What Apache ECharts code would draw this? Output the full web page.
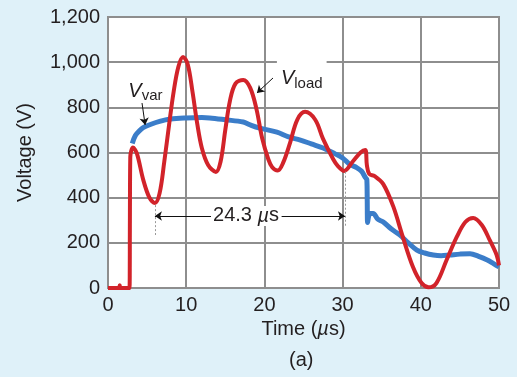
<!DOCTYPE html>
<html>
<head>
<meta charset="utf-8">
<script src="https://cdn.jsdelivr.net/npm/echarts@6/dist/echarts.min.js"></script>
<style>
  html, body { margin: 0; padding: 0; background: #dff1f9; }
  #chart { width: 517px; height: 377px; }
</style>
</head>
<body>
<div id="chart"></div>
<script>
// time (us), voltage (V)
var vload = [
  [0, 0], [1.4, 0], [1.5, 12], [1.6, 0], [2.75, 0], [2.8, 300], [2.85, 580], [3.2, 622],
  [3.7, 595], [4.5, 480], [5.3, 400], [6.0, 376], [6.6, 420], [7.2, 560], [7.8, 720],
  [8.4, 870], [9.0, 980], [9.6, 1023], [10.2, 990], [10.8, 870], [11.4, 730], [12.0, 620],
  [12.8, 545], [13.8, 514], [14.4, 560], [15.0, 700], [15.6, 830], [16.3, 905], [17.3, 921],
  [18.2, 885], [19.0, 790], [19.7, 665], [20.5, 570], [21.0, 535], [21.7, 520], [22.4, 555],
  [23.3, 645], [24.2, 745], [25.2, 780], [26.5, 745], [27.5, 660], [28.8, 570], [29.4, 540],
  [30.2, 518], [31.3, 560], [32.3, 600], [32.9, 611], [33.1, 545], [33.4, 505], [34.1, 495],
  [35.2, 460], [36.5, 359], [37.7, 226], [39.0, 93], [40.1, 22], [41.0, 3], [42.0, 22],
  [43.3, 124], [44.6, 226], [45.7, 292], [46.7, 310], [47.8, 279], [48.8, 213], [49.7, 146],
  [50, 100]
];
var vvar = [
  [3.1, 640], [3.5, 675], [4.0, 695], [4.5, 710], [5.5, 725], [6.6, 738], [8.0, 748],
  [10.0, 753], [12.0, 755], [13.0, 753], [15.0, 745], [17.3, 735], [18.2, 722],
  [19.4, 708], [21.6, 690], [23.0, 670], [24.6, 655], [26.0, 638], [27.5, 620],
  [29.0, 595], [30.0, 576], [30.9, 548], [31.8, 533], [32.4, 518], [32.9, 490],
  [33.1, 480], [33.15, 385], [33.2, 290], [33.5, 330], [33.9, 330], [34.5, 305], [35.2, 292],
  [36.2, 262], [37.3, 235], [38.4, 200], [39.5, 168], [40.5, 155], [41.6, 146],
  [42.6, 143], [43.7, 146], [45.0, 150], [46.3, 152], [47.4, 140], [48.5, 124],
  [49.3, 108], [50, 93]
];
var xTicks = [0, 10, 20, 30, 40, 50];
var yTicks = [0, 200, 400, 600, 800, 1000, 1200];
// period markers: valley at 6.0 us and 30.3 us
var periodStart = 6.0, periodEnd = 30.3, periodLabel = '24.3';

var font = '"Liberation Sans", Arial, sans-serif';
var ink = '#231f20';
var gridGray = '#8e8e8e';

var chart = echarts.init(document.getElementById('chart'));
var option = {
  backgroundColor: '#dff1f9',
  animation: false,
  textStyle: { fontFamily: font },
  title: {
    text: '(a)', top: 350, left: 289, padding: 0,
    textStyle: { fontSize: 20, fontWeight: 'normal', color: ink, fontFamily: font }
  },
  grid: {
    left: 108, right: 18, top: 17, bottom: 89,
    show: true, backgroundColor: '#fff', borderColor: gridGray, borderWidth: 2
  },
  xAxis: {
    type: 'value', min: xTicks[0], max: xTicks[xTicks.length - 1], interval: 10,
    name: '{n|Time (}{i|µ}{n|s)}', nameLocation: 'middle', nameGap: 30,
    nameTextStyle: {
      rich: {
        n: { fontSize: 20, color: ink, fontFamily: font },
        i: { fontSize: 20, color: ink, fontFamily: font, fontStyle: 'italic' }
      }
    },
    axisLine: { lineStyle: { color: gridGray, width: 2 } },
    axisTick: { show: false },
    axisLabel: { fontSize: 20, color: ink, margin: 7 },
    splitLine: { lineStyle: { color: gridGray, width: 2 } }
  },
  yAxis: {
    type: 'value', min: yTicks[0], max: yTicks[yTicks.length - 1], interval: 200,
    name: 'Voltage (V)', nameLocation: 'middle', nameGap: 73, nameRotate: 90,
    nameTextStyle: { fontSize: 20, color: ink },
    axisLine: { show: true, lineStyle: { color: gridGray, width: 2 } },
    axisTick: { show: false },
    axisLabel: {
      fontSize: 20, color: ink, margin: 8,
      formatter: function (v) { return v.toLocaleString('en-US'); }
    },
    splitLine: { lineStyle: { color: gridGray, width: 2 } }
  },
  series: [
    {
      name: 'Vvar', type: 'line', data: vvar, showSymbol: false,
      smooth: 0.35,
      lineStyle: { color: '#3b7dc9', width: 5 },
      markPoint: {
        symbol: 'circle', symbolSize: 0, silent: true,
        data: [{
          coord: [2.6, 872],
          label: {
            show: true, position: 'right', distance: 0,
            formatter: '{v|V}{s|var}',
            rich: {
              v: { fontSize: 20, fontStyle: 'italic', color: ink, fontFamily: font },
              s: { fontSize: 15, color: ink, fontFamily: font, padding: [10, 0, 0, 0] }
            }
          }
        }]
      },
      markLine: {
        silent: true, symbol: ['none', 'arrow'], symbolSize: 7,
        lineStyle: { color: '#111', width: 1, type: 'solid' },
        label: { show: false },
        data: [[{ coord: [4.35, 819] }, { coord: [4.75, 722] }]]
      }
    },
    {
      name: 'Vload', type: 'line', data: vload, showSymbol: false,
      smooth: 0.35,
      lineStyle: { color: '#d2232a', width: 4 },
      markPoint: {
        symbol: 'circle', symbolSize: 0, silent: true,
        data: [{
          coord: [21.6, 928],
          label: {
            show: true, position: 'right', distance: 0,
            backgroundColor: '#fff', padding: [6, 4, 6, 4],
            formatter: '{v|V}{s|load}',
            rich: {
              v: { fontSize: 20, fontStyle: 'italic', color: ink, fontFamily: font },
              s: { fontSize: 15, color: ink, fontFamily: font, padding: [10, 0, 0, 0] }
            }
          }
        }, {
          coord: [(periodStart + periodEnd) / 2 - 0.5, 319],
          label: {
            show: true, position: 'inside',
            backgroundColor: '#fff', padding: [0, 2, 0, 2],
            formatter: '{n|' + periodLabel + ' }{i|µ}{n|s}',
            rich: {
              n: { fontSize: 20, color: ink, fontFamily: font },
              i: { fontSize: 20, color: ink, fontFamily: font, fontStyle: 'italic' }
            }
          }
        }]
      },
      markLine: {
        silent: true, symbolSize: 7,
        label: { show: false },
        data: [
          [{ coord: [21.1, 930], symbol: 'none', lineStyle: { color: '#111', width: 1, type: 'solid' } },
           { coord: [19.05, 864], symbol: 'arrow' }],
          [{ coord: [periodStart, 319], symbol: 'arrow', lineStyle: { color: '#111', width: 1, type: 'solid' } },
           { coord: [13.2, 319], symbol: 'none' }],
          [{ coord: [22.2, 319], symbol: 'none', lineStyle: { color: '#111', width: 1, type: 'solid' } },
           { coord: [periodEnd, 319], symbol: 'arrow' }],
          [{ coord: [periodStart, 367], symbol: 'none', lineStyle: { color: '#999', width: 1, type: [2, 2] } },
           { coord: [periodStart, 235], symbol: 'none' }],
          [{ coord: [periodEnd, 515], symbol: 'none', lineStyle: { color: '#999', width: 1, type: [2, 2] } },
           { coord: [periodEnd, 270], symbol: 'none' }]
        ]
      }
    }
  ]
};
chart.setOption(option);
</script>
</body>
</html>
